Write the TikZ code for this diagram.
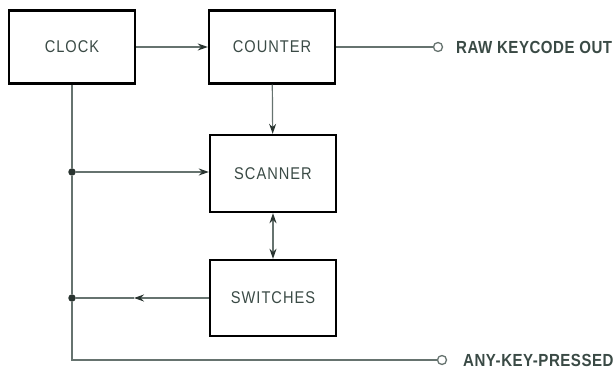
\documentclass[tikz,border=0pt]{standalone}
\usepackage{fontspec}
\setmainfont{Liberation Sans}[FakeStretch=0.86]
\usetikzlibrary{arrows.meta}
\definecolor{ink}{HTML}{3A4A45}
\definecolor{wirec}{HTML}{66736F}

\begin{document}
\begin{tikzpicture}[x=1pt,y=-1pt,
  >={Stealth[length=10pt,width=7pt,color=ink!70!black]},
  blk/.style={draw=black,line width=2.4pt,minimum width=126pt,minimum height=73pt,inner sep=0pt,
    font=\fontsize{17}{17}\selectfont\addfontfeatures{LetterSpace=6},text=ink},
  wire/.style={draw=wirec,line width=1.2pt},
  dotc/.style={circle,fill=ink!70!black,inner sep=0pt,minimum size=7.5pt},
  term/.style={circle,draw=wirec,line width=1.3pt,fill=white,inner sep=0pt,minimum size=9pt},
  outl/.style={anchor=west,inner sep=0pt,font=\bfseries\fontsize{17.5}{17.5}\selectfont\addfontfeatures{LetterSpace=3},text=ink}]
\useasboundingbox (0,0) rectangle (615,371);
\node[blk] (clock) at (72,47) {CLOCK};
\node[blk] (counter) at (272,47) {COUNTER};
\node[blk,minimum height=77pt] (scanner) at (273,173.5) {SCANNER};
\node[blk,minimum height=76pt] (switches) at (273,298) {SWITCHES};
\node[dotc] (j1) at (72,172) {};\node[dotc] (j2) at (72,298) {};
\coordinate (corner) at (72,360);\coordinate (swmid) at (134,298);
\node[term] (rawo) at (438,47) {};\node[outl] (rawt) at (456,47) {RAW KEYCODE OUT};
\node[term] (anyo) at (442,360) {};\node[outl] (anyt) at (463,360) {ANY-KEY-PRESSED};
\draw[wire,->] (clock) -- (counter);
\draw[wire] (counter) -- (rawo);
\draw[wire,->] (counter) -- (scanner);
\draw[wire,<->] (scanner) -- (switches);
\draw[wire] (clock) -- (j1) -- (j2) -- (corner) -- (anyo);
\draw[wire,->] (j1) -- (j1 -| scanner.west);
\draw[wire,->] (switches.west |- j2) -- (swmid);\draw[wire] (swmid) -- (j2);
\end{tikzpicture}
\end{document}
